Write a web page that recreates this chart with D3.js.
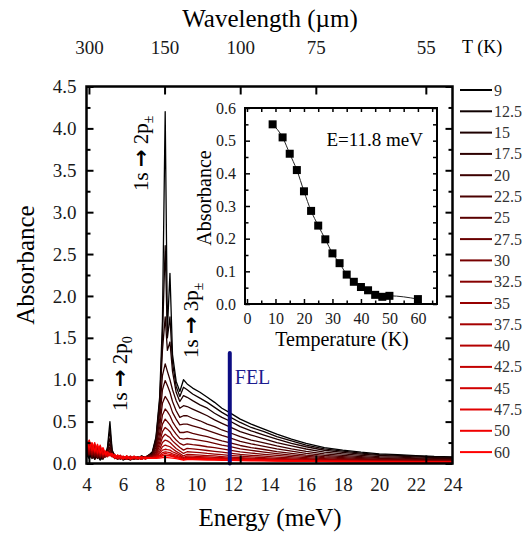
<!DOCTYPE html>
<html>
<head>
<meta charset="utf-8">
<script src="https://cdn.jsdelivr.net/npm/d3@7"></script>
<style>
  body { margin: 0; background: #fff; }
</style>
</head>
<body>
<svg id="chart" width="527" height="533"></svg>
<script>

// temperatures (K), one spectrum each
var temps = [9, 12.5, 15, 17.5, 20, 22.5, 25, 27.5, 30, 32.5, 35, 37.5, 40, 42.5, 45, 47.5, 50, 60];

// energy grid (meV) where spectra were read
var energy = [4.0, 4.15, 4.3, 4.45, 4.6, 4.75, 4.9, 5.05, 5.15, 5.28, 5.4, 5.55, 5.7, 5.85, 6.0, 6.2, 6.4, 6.6, 6.8, 7.0, 7.2, 7.4, 7.6,
  7.8, 8.0, 8.15, 8.3, 8.42, 8.56, 8.7, 8.9, 9.1, 9.3, 9.5, 9.8, 10.2, 10.6, 11.0, 11.4, 11.8,
  12.4, 13.0, 13.7, 14.4, 15.2, 16.0, 17.0, 18.0, 19.0, 20.0, 21.0, 22.0, 23.0, 24.0];

var a9 = [0.10,0.06,0.13,0.05,0.09,0.04,0.08,0.11,0.2,0.5,0.16,0.09,0.05,0.08,0.04,0.07,0.05,0.08,0.06,0.09,0.07,0.1,0.14,
  0.32,0.8,1.7,4.2,1.6,2.27,1.3,0.98,0.86,1.0,0.95,0.9,0.85,0.79,0.73,0.66,0.61,
  0.53,0.47,0.41,0.35,0.29,0.24,0.19,0.16,0.135,0.115,0.105,0.095,0.085,0.08];
var a12_5 = [0.12,0.07,0.1,0.06,0.11,0.05,0.07,0.1,0.18,0.4,0.15,0.08,0.06,0.07,0.05,0.06,0.06,0.07,0.05,0.08,0.08,0.09,0.13,
  0.3,0.75,1.5,2.6,1.5,1.75,1.2,0.92,0.8,0.91,0.88,0.83,0.78,0.73,0.67,0.61,0.56,
  0.49,0.43,0.38,0.32,0.27,0.22,0.175,0.148,0.125,0.107,0.097,0.088,0.079,0.074];
var a15 = [0.09,0.12,0.06,0.1,0.07,0.09,0.05,0.12,0.17,0.3,0.14,0.1,0.05,0.09,0.06,0.05,0.07,0.06,0.07,0.07,0.06,0.1,0.12,
  0.28,0.7,1.35,1.75,1.35,1.45,1.1,0.85,0.74,0.81,0.79,0.75,0.7,0.66,0.6,0.55,0.51,
  0.44,0.39,0.34,0.29,0.24,0.2,0.158,0.133,0.112,0.096,0.087,0.079,0.071,0.066];
var a17_5 = [0.14,0.08,0.11,0.05,0.12,0.06,0.1,0.08,0.16,0.24,0.13,0.07,0.08,0.06,0.07,0.06,0.04,0.08,0.05,0.09,0.07,0.08,0.12,
  0.25,0.62,1.05,1.19,1.1,1.0,0.88,0.75,0.66,0.69,0.68,0.65,0.61,0.57,0.52,0.48,0.44,
  0.38,0.34,0.295,0.25,0.21,0.173,0.137,0.115,0.097,0.083,0.076,0.068,0.061,0.058];
var a20 = [0.11,0.15,0.07,0.12,0.06,0.1,0.08,0.11,0.15,0.2,0.12,0.09,0.06,0.08,0.05,0.07,0.06,0.05,0.08,0.06,0.08,0.09,0.11,
  0.22,0.52,0.88,0.99,0.93,0.85,0.74,0.63,0.55,0.57,0.57,0.54,0.51,0.47,0.44,0.4,0.37,
  0.32,0.28,0.245,0.21,0.175,0.145,0.115,0.097,0.082,0.07,0.064,0.058,0.052,0.049];
var a22_5 = [0.16,0.09,0.13,0.08,0.1,0.12,0.06,0.1,0.14,0.17,0.11,0.07,0.09,0.05,0.08,0.05,0.07,0.06,0.06,0.08,0.06,0.1,0.1,
  0.19,0.44,0.72,0.8,0.76,0.7,0.61,0.53,0.46,0.47,0.47,0.45,0.425,0.395,0.365,0.335,0.31,
  0.265,0.235,0.205,0.175,0.147,0.122,0.097,0.082,0.07,0.06,0.055,0.05,0.045,0.043];
var a25 = [0.13,0.18,0.08,0.14,0.07,0.11,0.09,0.08,0.13,0.15,0.1,0.08,0.06,0.09,0.06,0.08,0.05,0.07,0.07,0.05,0.08,0.07,0.1,
  0.16,0.36,0.58,0.65,0.62,0.57,0.5,0.43,0.37,0.37,0.38,0.36,0.34,0.32,0.295,0.27,0.25,
  0.215,0.19,0.167,0.143,0.12,0.1,0.081,0.069,0.059,0.051,0.047,0.043,0.039,0.037];
var a27_5 = [0.18,0.1,0.15,0.09,0.13,0.07,0.12,0.09,0.12,0.14,0.11,0.06,0.09,0.06,0.07,0.06,0.08,0.05,0.07,0.07,0.06,0.09,0.09,
  0.14,0.3,0.47,0.53,0.5,0.46,0.41,0.35,0.3,0.29,0.3,0.29,0.275,0.26,0.24,0.22,0.205,
  0.175,0.156,0.137,0.118,0.1,0.084,0.069,0.059,0.051,0.045,0.041,0.038,0.035,0.033];
var a30 = [0.15,0.2,0.1,0.16,0.08,0.14,0.07,0.11,0.1,0.13,0.09,0.08,0.05,0.08,0.06,0.09,0.05,0.07,0.06,0.08,0.07,0.06,0.09,
  0.12,0.25,0.38,0.43,0.41,0.38,0.33,0.28,0.24,0.22,0.235,0.225,0.215,0.2,0.19,0.175,0.16,
  0.14,0.125,0.11,0.096,0.082,0.07,0.058,0.05,0.044,0.039,0.036,0.033,0.031,0.029];
var a32_5 = [0.21,0.12,0.17,0.1,0.15,0.09,0.13,0.08,0.12,0.12,0.1,0.07,0.09,0.05,0.08,0.06,0.07,0.06,0.08,0.05,0.07,0.08,0.08,
  0.11,0.21,0.31,0.35,0.33,0.31,0.27,0.23,0.19,0.16,0.18,0.175,0.165,0.155,0.145,0.135,0.125,
  0.11,0.098,0.087,0.077,0.067,0.058,0.049,0.043,0.038,0.034,0.032,0.03,0.028,0.026];
var a35 = [0.17,0.23,0.11,0.18,0.1,0.16,0.08,0.12,0.09,0.13,0.08,0.1,0.06,0.09,0.05,0.08,0.06,0.08,0.05,0.07,0.06,0.07,0.08,
  0.1,0.17,0.25,0.28,0.27,0.25,0.22,0.18,0.15,0.12,0.14,0.135,0.13,0.12,0.113,0.105,0.097,
  0.087,0.078,0.07,0.062,0.055,0.049,0.042,0.037,0.034,0.031,0.029,0.027,0.025,0.024];
var a37_5 = [0.22,0.14,0.2,0.12,0.17,0.09,0.14,0.1,0.13,0.11,0.09,0.06,0.1,0.07,0.07,0.05,0.09,0.05,0.07,0.06,0.08,0.06,0.07,
  0.09,0.14,0.2,0.22,0.21,0.2,0.175,0.145,0.12,0.09,0.11,0.105,0.1,0.095,0.09,0.083,0.077,
  0.07,0.064,0.058,0.052,0.047,0.042,0.037,0.033,0.03,0.028,0.026,0.024,0.023,0.022];
var a40 = [0.19,0.25,0.13,0.21,0.11,0.18,0.1,0.13,0.08,0.12,0.1,0.08,0.06,0.1,0.06,0.09,0.05,0.07,0.08,0.05,0.07,0.07,0.07,
  0.085,0.12,0.16,0.17,0.165,0.16,0.14,0.12,0.1,0.07,0.09,0.087,0.083,0.078,0.074,0.069,0.064,
  0.059,0.055,0.05,0.046,0.042,0.038,0.034,0.031,0.028,0.026,0.025,0.023,0.022,0.021];
var a42_5 = [0.24,0.16,0.22,0.13,0.19,0.11,0.15,0.09,0.12,0.1,0.11,0.06,0.09,0.06,0.08,0.07,0.06,0.09,0.05,0.08,0.05,0.07,0.07,
  0.08,0.1,0.13,0.14,0.135,0.13,0.115,0.1,0.085,0.06,0.075,0.073,0.07,0.066,0.063,0.06,0.056,
  0.052,0.049,0.045,0.042,0.038,0.035,0.031,0.029,0.027,0.025,0.024,0.022,0.021,0.02];
var a45 = [0.2,0.27,0.15,0.23,0.12,0.2,0.1,0.14,0.1,0.11,0.08,0.1,0.07,0.08,0.05,0.08,0.07,0.06,0.08,0.06,0.07,0.06,0.07,
  0.075,0.09,0.11,0.12,0.115,0.11,0.1,0.085,0.072,0.05,0.065,0.062,0.06,0.057,0.054,0.052,0.049,
  0.046,0.043,0.04,0.037,0.034,0.031,0.028,0.026,0.024,0.023,0.022,0.021,0.02,0.019];
var a47_5 = [0.26,0.17,0.24,0.14,0.21,0.12,0.17,0.1,0.13,0.09,0.1,0.07,0.1,0.06,0.09,0.05,0.08,0.07,0.06,0.08,0.06,0.07,0.07,
  0.07,0.08,0.095,0.1,0.098,0.095,0.087,0.075,0.063,0.045,0.058,0.056,0.054,0.051,0.049,0.047,0.045,
  0.042,0.04,0.037,0.034,0.031,0.029,0.026,0.024,0.023,0.022,0.021,0.02,0.019,0.018];
var a50 = [0.22,0.28,0.16,0.25,0.13,0.22,0.11,0.15,0.09,0.12,0.09,0.11,0.06,0.09,0.07,0.07,0.06,0.08,0.07,0.05,0.08,0.06,0.06,
  0.068,0.078,0.09,0.095,0.092,0.09,0.082,0.07,0.06,0.045,0.056,0.054,0.052,0.05,0.048,0.046,0.044,
  0.041,0.039,0.036,0.033,0.031,0.028,0.026,0.024,0.022,0.021,0.02,0.019,0.018,0.017];
var a60 = [0.27,0.19,0.25,0.15,0.23,0.13,0.19,0.11,0.14,0.1,0.12,0.07,0.1,0.08,0.06,0.09,0.05,0.08,0.06,0.08,0.06,0.07,0.06,
  0.06,0.065,0.07,0.072,0.07,0.068,0.064,0.058,0.05,0.04,0.047,0.046,0.044,0.042,0.04,0.039,0.037,
  0.035,0.033,0.031,0.029,0.027,0.025,0.023,0.021,0.02,0.019,0.018,0.017,0.016,0.015];

var spectra = [a9, a12_5, a15, a17_5, a20, a22_5, a25, a27_5, a30, a32_5, a35, a37_5, a40, a42_5, a45, a47_5, a50, a60];

// inset: absorbance at E = 11.8 meV vs temperature
var insetA = [0.55, 0.51, 0.46, 0.41, 0.345, 0.285, 0.24, 0.198, 0.155, 0.125, 0.09, 0.068, 0.052, 0.042, 0.028, 0.022, 0.025, 0.015];

// tick labels
var energyTicks = [4, 6, 8, 10, 12, 14, 16, 18, 20, 22, 24];
var wavelengthTicks = [300, 150, 100, 75, 55];
var felEnergy = 11.83, felTop = 1.32;

var FONT = "Liberation Serif";
var svg = d3.select("#chart");

// Setup main scales.
var x = d3.scaleLinear().domain([4, 24]).range([86.5, 452.5]);
var y = d3.scaleLinear().domain([0, 4.5]).range([463.5, 86.5]);
var color = function (i) { return d3.interpolateRgb("#000000", "#ff0000")(i / (temps.length - 1)); };

svg.append("defs").append("clipPath").attr("id", "plotclip")
  .append("rect")
  .attr("x", x(4)).attr("y", y(4.5))
  .attr("width", x(24) - x(4)).attr("height", y(0) - y(4.5));

// Spectra, coldest first so the red ones end on top.
var line = d3.line()
  .x(function (d, i) { return x(energy[i]); })
  .y(function (d) { return y(d); });

var curves = svg.append("g").attr("clip-path", "url(#plotclip)");
spectra.forEach(function (s, i) {
  curves.append("path")
    .attr("d", line(s))
    .attr("fill", "none")
    .attr("stroke", color(i))
    .attr("stroke-width", 1.3)
    .attr("stroke-linejoin", "round");
});

// FEL line
svg.append("line")
  .attr("x1", x(felEnergy)).attr("x2", x(felEnergy))
  .attr("y1", y(felTop)).attr("y2", y(0))
  .attr("stroke", "#0c0c82").attr("stroke-width", 4).attr("stroke-linecap", "round");
svg.append("text")
  .attr("x", x(felEnergy) + 5).attr("y", 384)
  .style("font-size", "20px").attr("fill", "#1c1c8f")
  .text("FEL");

// Axes
function styleAxis(g, w) {
  g.attr("font-family", FONT);
  g.select(".domain").remove();
  g.selectAll(".tick line").attr("stroke", "#000").attr("stroke-width", w);
  g.selectAll(".tick text").attr("fill", "#1a1a1a");
}

var majorY = d3.range(0, 4.51, 0.5);
var minorY = d3.range(0.25, 4.5, 0.5);

var gl = svg.append("g").attr("transform", "translate(" + x(4) + ",0)")
  .call(d3.axisLeft(y).tickValues(majorY).tickSize(-7).tickPadding(10).tickFormat(d3.format(".1f")));
gl.selectAll("text").style("font-size", "19px");
styleAxis(gl, 2);
styleAxis(svg.append("g").attr("transform", "translate(" + x(4) + ",0)")
  .call(d3.axisLeft(y).tickValues(minorY).tickSize(-4).tickFormat("")), 2);
styleAxis(svg.append("g").attr("transform", "translate(" + x(24) + ",0)")
  .call(d3.axisRight(y).tickValues(majorY).tickSize(-7).tickFormat("")), 2);
styleAxis(svg.append("g").attr("transform", "translate(" + x(24) + ",0)")
  .call(d3.axisRight(y).tickValues(minorY).tickSize(-4).tickFormat("")), 2);

var gb = svg.append("g").attr("transform", "translate(0," + y(0) + ")")
  .call(d3.axisBottom(x).tickValues(energyTicks).tickSize(0).tickPadding(14));
gb.selectAll("text").style("font-size", "19px");
styleAxis(gb, 0);

// wavelength ticks (top labelled, bottom marks only)
var wavE = wavelengthTicks.map(function (w) { return 1239.84 / w; });
var gt = svg.append("g").attr("transform", "translate(0," + y(4.5) + ")")
  .call(d3.axisTop(x).tickValues(wavE).tickSize(-8).tickPadding(33)
    .tickFormat(function (d, i) { return wavelengthTicks[i]; }));
gt.selectAll("text").style("font-size", "19px");
styleAxis(gt, 2);
styleAxis(svg.append("g").attr("transform", "translate(0," + y(0) + ")")
  .call(d3.axisBottom(x).tickValues(wavE).tickSize(-8).tickFormat("")), 2);

// frame
svg.append("rect")
  .attr("x", x(4)).attr("y", y(4.5))
  .attr("width", x(24) - x(4)).attr("height", y(0) - y(4.5))
  .attr("fill", "none").attr("stroke", "#000").attr("stroke-width", 2.5);

// axis titles
svg.append("text").attr("x", 270).attr("y", 27).attr("text-anchor", "middle")
  .style("font-size", "25px").text("Wavelength (\u00b5m)");
svg.append("text").attr("x", 270).attr("y", 526).attr("text-anchor", "middle")
  .style("font-size", "25px").text("Energy (meV)");
svg.append("text").attr("transform", "translate(34,265) rotate(-90)").attr("text-anchor", "middle")
  .style("font-size", "25px").text("Absorbance");

// transition labels (rotated)
function transitionLabel(bx, by, n, sub) {
  var t = svg.append("text").attr("transform", "translate(" + bx + "," + by + ") rotate(-90)")
    .style("font-size", "21px");
  t.append("tspan").text("1s ");
  t.append("tspan").attr("class", "arrow").style("font-weight", "bold").text("\u2192");
  t.append("tspan").text(" " + n + "p");
  t.append("tspan").attr("dy", 5).style("font-size", "14px").text(sub);
}
transitionLabel(127, 411, 2, "0");
transitionLabel(148, 191, 2, "\u00b1");
transitionLabel(198, 358, 3, "\u00b1");

// legend
var legend = svg.append("g");
svg.append("text").attr("x", 462).attr("y", 53).style("font-size", "18px").text("T (K)");
temps.forEach(function (t, i) {
  var ly = 90 + i * 21.3;
  legend.append("line").attr("x1", 460).attr("x2", 492).attr("y1", ly).attr("y2", ly)
    .attr("stroke", color(i)).attr("stroke-width", 2);
  legend.append("text").attr("x", 494).attr("y", ly + 5.5).style("font-size", "16px")
    .attr("fill", "#333").text(t);
});

// ---- inset ----
var ix = d3.scaleLinear().domain([-0.7, 66.7]).range([245, 437]);
var iy = d3.scaleLinear().domain([0, 0.6]).range([304, 108]);

svg.append("rect").attr("x", 245).attr("y", 108).attr("width", 192).attr("height", 196).attr("fill", "#fff");

var gix = svg.append("g").attr("transform", "translate(0," + iy(0) + ")")
  .call(d3.axisBottom(ix).tickValues(d3.range(0, 61, 10)).tickSize(-5).tickPadding(9));
gix.selectAll("text").style("font-size", "16px");
styleAxis(gix, 1.5);
styleAxis(svg.append("g").attr("transform", "translate(0," + iy(0) + ")")
  .call(d3.axisBottom(ix).tickValues(d3.range(5, 66, 10)).tickSize(-3.5).tickFormat("")), 1.5);
styleAxis(svg.append("g").attr("transform", "translate(0," + iy(0.6) + ")")
  .call(d3.axisTop(ix).tickValues(d3.range(0, 66, 5)).tickSize(-4).tickFormat("")), 1.5);

var giy = svg.append("g").attr("transform", "translate(" + ix(-0.7) + ",0)")
  .call(d3.axisLeft(iy).tickValues(d3.range(0, 0.61, 0.1)).tickSize(-5).tickPadding(9).tickFormat(d3.format(".1f")));
giy.selectAll("text").style("font-size", "16px");
styleAxis(giy, 1.5);
styleAxis(svg.append("g").attr("transform", "translate(" + ix(-0.7) + ",0)")
  .call(d3.axisLeft(iy).tickValues(d3.range(0.05, 0.6, 0.1)).tickSize(-3.5).tickFormat("")), 1.5);
styleAxis(svg.append("g").attr("transform", "translate(" + ix(66.7) + ",0)")
  .call(d3.axisRight(iy).tickValues(d3.range(0, 0.61, 0.05)).tickSize(-4).tickFormat("")), 1.5);

svg.append("rect").attr("x", 245).attr("y", 108).attr("width", 192).attr("height", 196)
  .attr("fill", "none").attr("stroke", "#000").attr("stroke-width", 2);

var iline = d3.line().curve(d3.curveMonotoneX)
  .x(function (d, i) { return ix(temps[i]); })
  .y(function (d) { return iy(d); });
svg.append("path").attr("d", iline(insetA)).attr("fill", "none").attr("stroke", "#222").attr("stroke-width", 1);
svg.append("g").selectAll("rect").data(insetA).enter().append("rect")
  .attr("x", function (d, i) { return ix(temps[i]) - 4; })
  .attr("y", function (d) { return iy(d) - 4; })
  .attr("width", 8).attr("height", 8).attr("fill", "#000");

svg.append("text").attr("x", 423).attr("y", 146).attr("text-anchor", "end")
  .style("font-size", "19px").text("E=11.8 meV");
svg.append("text").attr("x", 342).attr("y", 346).attr("text-anchor", "middle")
  .style("font-size", "20px").text("Temperature (K)");
svg.append("text").attr("transform", "translate(211,198) rotate(-90)").attr("text-anchor", "middle")
  .style("font-size", "20px").text("Absorbance");

// one serif face for every label; the arrows use a heavier glyph
svg.selectAll("text").attr("font-family", FONT);
svg.selectAll("tspan.arrow").attr("font-family", "DejaVu Sans");

</script>
</body>
</html>
